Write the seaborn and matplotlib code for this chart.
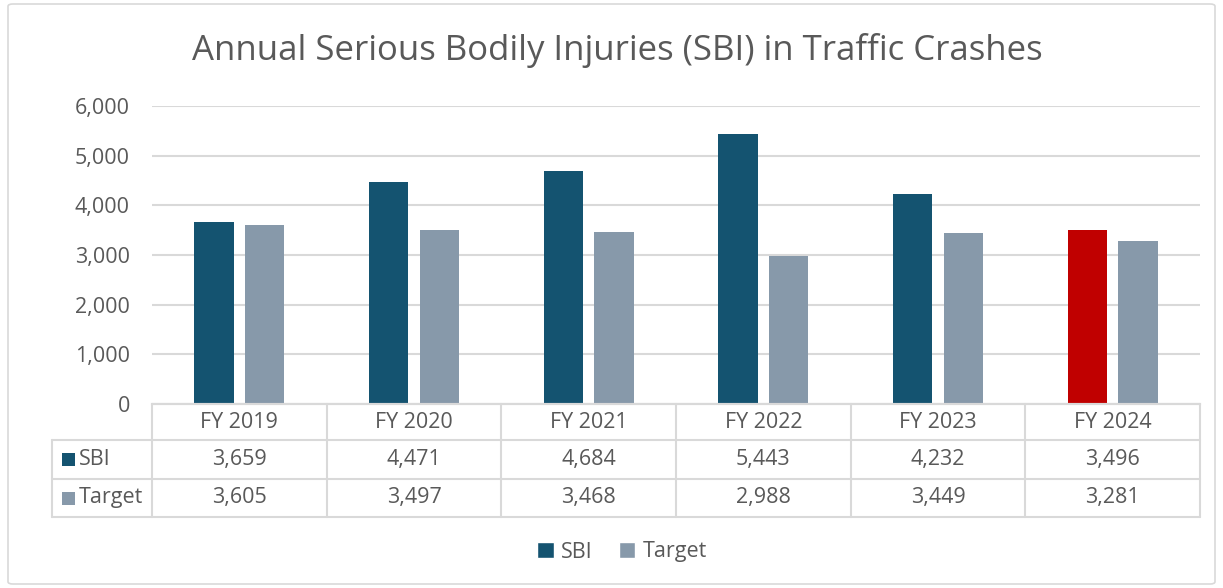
import matplotlib
matplotlib.use("Agg")
import matplotlib.pyplot as plt
import matplotlib.transforms as mtransforms
from matplotlib.patches import Patch, FancyBboxPatch, Rectangle
import seaborn as sns
import pandas as pd

####Data
years = ["FY 2019", "FY 2020", "FY 2021", "FY 2022", "FY 2023", "FY 2024"]
sbi = [3659, 4471, 4684, 5443, 4232, 3496]
target = [3605, 3497, 3468, 2988, 3449, 3281]
series = ["SBI", "Target"]

dark = "#145370"
grey = "#8799AA"
red = "#C00000"
txt = "#595959"
line = "#D9D9D9"

df = pd.DataFrame({
    "year": years * 2,
    "series": ["SBI"] * len(years) + ["Target"] * len(years),
    "value": sbi + target,
})

sns.set_theme(style="white")
plt.rcParams["font.family"] = ["Open Sans", "DejaVu Sans"]

W, H = 1223, 588
fig = plt.figure(figsize=(W / 100, H / 100), dpi=100)

# outer chart border
fig.patches.append(FancyBboxPatch((8 / W, 4 / H), (1207) / W, (580) / H,
                                  boxstyle="round,pad=0,rounding_size=0.004",
                                  transform=fig.transFigure, fill=False,
                                  edgecolor=line, linewidth=1.2))

ax_l, ax_r, ax_t, ax_b = 152, 1200, 106, 404
ax = fig.add_axes([ax_l / W, (H - ax_b) / H, (ax_r - ax_l) / W, (ax_b - ax_t) / H])

sns.barplot(data=df, x="year", y="value", hue="series", order=years,
            hue_order=series, palette={"SBI": dark, "Target": grey},
            width=0.58, saturation=1, ax=ax, legend=False)

# narrow the bars about their centres
for p in ax.patches:
    c = p.get_x() + p.get_width() / 2
    p.set_width(0.225)
    p.set_x(c - 0.225 / 2)
    p.set_edgecolor("none")
ax.containers[0][5].set_facecolor(red)

ax.set_xlim(-0.5, len(years) - 0.5)
ax.set_ylim(0, 6000)
ax.set_yticks(range(0, 6001, 1000))
ax.set_yticklabels([f"{v:,}" for v in range(0, 6001, 1000)])
ax.yaxis.grid(True, color=line, linewidth=1.5)
ax.set_axisbelow(True)
ax.set_xticks([])
ax.set_xlabel("")
ax.set_ylabel("")
ax.tick_params(axis="y", length=0, pad=16, labelsize=15.5, labelcolor=txt)
for s in ["top", "right", "left"]:
    ax.spines[s].set_visible(False)
ax.spines["bottom"].set_color(line)
ax.spines["bottom"].set_linewidth(1.5)

####Data table
tr = mtransforms.blended_transform_factory(ax.transData, ax.transAxes)
ph = ax_b - ax_t
def fy(p):
    return (ax_b - p) / ph

colw = (ax_r - ax_l) / len(years)
x_left = -0.5 - (ax_l - 52) / colw
x_right = len(years) - 0.5
rows = [fy(404), fy(440), fy(479), fy(517)]
kw = dict(color=line, linewidth=1.5, transform=tr, clip_on=False)

ax.plot([-0.5, x_right], [rows[0], rows[0]], **kw)
for r in rows[1:]:
    ax.plot([x_left, x_right], [r, r], **kw)
ax.plot([x_left, x_left], [rows[1], rows[3]], **kw)
for i in range(len(years) + 1):
    ax.plot([i - 0.5, i - 0.5], [rows[0], rows[3]], **kw)

fs = 15.5
for i, y in enumerate(years):
    ax.text(i, (rows[0] + rows[1]) / 2, y, ha="center", va="center",
            fontsize=fs, color=txt, transform=tr)
    ax.text(i, (rows[1] + rows[2]) / 2, f"{sbi[i]:,}", ha="center", va="center",
            fontsize=fs, color=txt, transform=tr)
    ax.text(i, (rows[2] + rows[3]) / 2, f"{target[i]:,}", ha="center", va="center",
            fontsize=fs, color=txt, transform=tr)

sq = 13 / ph
for k, (name, col) in enumerate(zip(series, [dark, grey])):
    yc = (rows[k + 1] + rows[k + 2]) / 2
    ax.add_patch(Rectangle((x_left + 10 / colw, yc - sq / 2), 13 / colw, sq,
                           facecolor=col, edgecolor="none", transform=tr,
                           clip_on=False))
    ax.text(x_left + 27 / colw, yc, name, ha="left", va="center",
            fontsize=fs, color=txt, transform=tr)

####Title and legend
fig.text(617 / W, 1 - 50 / H, "Annual Serious Bodily Injuries (SBI) in Traffic Crashes",
         ha="center", va="center", fontsize=25, color=txt)

handles = [Patch(facecolor=dark, label="SBI"), Patch(facecolor=grey, label="Target")]
fig.legend(handles=handles, loc="center", bbox_to_anchor=(622 / W, 1 - 552 / H),
           ncol=2, frameon=False, fontsize=15.5, labelcolor=txt,
           handlelength=0.75, handleheight=0.75, handletextpad=0.35, columnspacing=1.2)

fig.savefig("out.png", dpi=100)
